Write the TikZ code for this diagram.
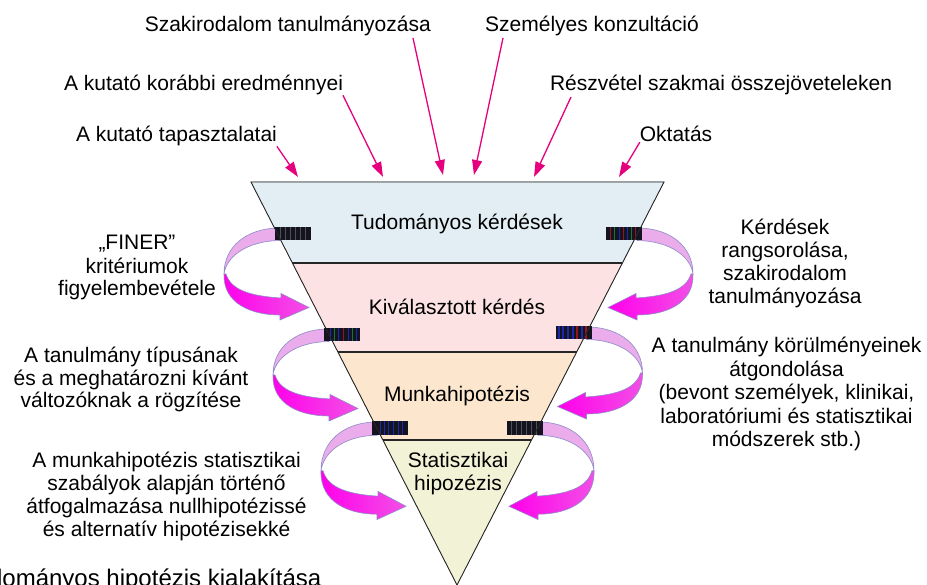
\documentclass[tikz,border=0pt]{standalone}
\usepackage{fontspec}
\setmainfont{Liberation Sans}
\usetikzlibrary{arrows.meta,calc}
\definecolor{hot}{RGB}{230,0,126}
\definecolor{bandA}{RGB}{226,238,244}
\definecolor{bandB}{RGB}{252,226,226}
\definecolor{bandC}{RGB}{252,231,206}
\definecolor{bandD}{RGB}{242,242,214}
\definecolor{paleA}{RGB}{234,172,234}
\definecolor{paleB}{RGB}{250,236,250}
\definecolor{magA}{RGB}{255,0,235}
\definecolor{magB}{RGB}{242,80,230}
\definecolor{ribline}{RGB}{140,140,200}
\definecolor{barbase}{RGB}{20,20,32}
\definecolor{stA}{RGB}{30,40,170}
\definecolor{stB}{RGB}{150,20,30}
\definecolor{stC}{RGB}{20,120,50}
\definecolor{stD}{RGB}{80,80,80}
\tikzset{
  txt/.style={font=\fontsize{21}{23}\selectfont, align=center},
  toparrow/.style={draw=hot, line width=1.3pt, -{Triangle[length=15pt,width=10pt]}},
  edgeline/.style={draw=black!85, line width=0.9pt},
  ribbonpale/.style={draw=ribline, line width=0.6pt, left color=paleA, middle color=paleB, right color=paleA},
  ribbonmag/.style={draw=ribline, line width=0.6pt, left color=magA, right color=magB},
  loopL/.pic={
    \path[ribbonpale] (0,0) .. controls (-30,1) and (-53,18) .. (-53,46)
       .. controls (-51,30) and (-32,13) .. (3,12.5) -- cycle;
    \path[ribbonmag] (-53,46) .. controls (-54,76) and (-25,87) .. (3,87)
       -- (3,92) -- (32,79.5) -- (4,65.5) -- (4,70)
       .. controls (-27,68) and (-46,62) .. (-51,46) -- cycle;
  },
  darkbar/.pic={
    \fill[barbase] (-2,-0.5) rectangle (34,12.5);
    \foreach \xx/\cc in {#1} {\fill[\cc] (\xx,-0.5) rectangle ++(1.3,13);}
  }
}
\begin{document}
\begin{tikzpicture}[x=1pt,y=-1pt, every node/.style={inner sep=0pt, outer sep=0pt}]
\useasboundingbox (0,0) rectangle (927,585);
\clip (0,0) rectangle (927,585);
\fill[white] (0,0) rectangle (927,585);

% funnel corners
\coordinate (TL) at (251,182);
\coordinate (TR) at (664,182);
\coordinate (AP) at (457,585);
\coordinate (L1) at ($(TL)!0.20099!(AP)$);
\coordinate (R1) at ($(TR)!0.20099!(AP)$);
\coordinate (L2) at ($(TL)!0.42184!(AP)$);
\coordinate (R2) at ($(TR)!0.42184!(AP)$);
\coordinate (L3) at ($(TL)!0.64020!(AP)$);
\coordinate (R3) at ($(TR)!0.64020!(AP)$);

% bands
\fill[left color=bandA, middle color=white, right color=bandA] (TL) -- (TR) -- (R1) -- (L1) -- cycle;
\fill[left color=bandB, middle color=white, right color=bandB] (L1) -- (R1) -- (R2) -- (L2) -- cycle;
\fill[left color=bandC, middle color=white, right color=bandC] (L2) -- (R2) -- (R3) -- (L3) -- cycle;
\fill[left color=bandD, middle color=white, right color=bandD] (L3) -- (R3) -- (AP) -- cycle;

% curved arrows
\pic at (277,228) {loopL};
\pic at (277,228) {darkbar={3/stD,8/stD,13/stD,18/stD,23/stD,28/stD}};
\pic at (326,329) {loopL};
\pic at (326,329) {darkbar={4/stA,8/stC,12/stA,17/stB,22/stA,26/stC,30/stA}};
\pic[yscale=1.06] at (374,422) {loopL};
\pic at (374,422) {darkbar={6/stA,10/stA,14/stA,19/stA,24/stA,28/stA}};
\pic[xscale=-1] at (640,228) {loopL};
\pic[xscale=-1] at (640,228) {darkbar={4/stB,8/stC,12/stA,16/stB,20/stA,25/stC,29/stB}};
\pic[xscale=-1] at (589.5,327) {loopL};
\pic[xscale=-1] at (589.5,327) {darkbar={3/stB,7/stA,12/stB,16/stA,21/stA,26/stA,30/stA}};
\pic[xscale=-1,yscale=1.06] at (541,422) {loopL};
\pic[xscale=-1] at (541,422) {darkbar={4/stD,9/stD,14/stD,19/stD,24/stD,29/stD}};

% funnel outline and band lines
\draw[edgeline] (TL) -- (TR) -- (AP) -- cycle;
\draw[edgeline, line width=1.1pt] (L1) -- (R1) (L2) -- (R2) (L3) -- (R3);

% funnel texts
\node[txt, anchor=base] (tk) at (457,229.5) {Tudományos kérdések};
\node[txt, anchor=base] (kk) at (457,315) {Kiválasztott kérdés};
\node[txt, anchor=base] (mh) at (457,401.5) {Munkahipotézis};
\node[txt, anchor=north] (sh) at (458,450.9) {\strut Statisztikai\\hipozézis};

% top labels
\node[txt, anchor=base] (labSzak) at (287.8,32) {Szakirodalom tanulmányozása};
\node[txt, anchor=base] (labSzem) at (592,32) {Személyes konzultáció};
\node[txt, anchor=base] (labKor) at (203.5,91) {A kutató korábbi eredménnyei};
\node[txt, anchor=base] (labResz) at (721,91) {Részvétel szakmai összejöveteleken};
\node[txt, anchor=base] (labTap) at (176.5,142) {A kutató tapasztalatai};
\node[txt, anchor=base] (labOkt) at (676,142) {Oktatás};

\coordinate (t1) at (298,177);
\coordinate (t2) at (383,177);
\coordinate (s3) at (413,38);
\coordinate (t3) at (443,175);
\coordinate (s4) at (503,38);
\coordinate (t4) at (474,175);
\coordinate (s5) at (571,97);
\coordinate (t5) at (534,177);
\coordinate (t6) at (619,177);
\draw[toparrow] (labTap.south east) -- (t1);
\draw[toparrow] (labKor.south east) -- (t2);
\draw[toparrow] (s3) -- (t3);
\draw[toparrow] (s4) -- (t4);
\draw[toparrow] (s5) -- (t5);
\draw[toparrow] (labOkt.south west) -- (t6);

% side texts
\node[txt, font=\fontsize{21}{22}\selectfont, anchor=north] (finer) at (137,234.6)
  {\strut „FINER”\\kritériumok\\figyelembevétele};
\node[txt, anchor=north] (rang) at (785,218.9)
  {\strut Kérdések\\rangsorolása,\\szakirodalom\\tanulmányozása};
\node[txt, anchor=north] (tipus) at (131,345.9)
  {\strut A tanulmány típusának\\és a meghatározni kívánt\\változóknak a rögzítése};
\node[txt, font=\fontsize{21}{23.5}\selectfont, anchor=north] (korul) at (786.5,336.5)
  {\strut A tanulmány körülményeinek\\átgondolása\\(bevont személyek, klinikai,\\laboratóriumi és statisztikai\\módszerek stb.)};
\node[txt, anchor=north] (stat) at (166.5,450.9)
  {\strut A munkahipotézis statisztikai\\szabályok alapján történő\\átfogalmazása nullhipotézissé\\és alternatív hipotézisekké};

% bottom caption, cut by the picture's edges as in the reference
\node[font=\fontsize{24}{26}\selectfont, anchor=base west] (cap) at (-38,586) {Tudományos hipotézis kialakítása};
\end{tikzpicture}
\end{document}
